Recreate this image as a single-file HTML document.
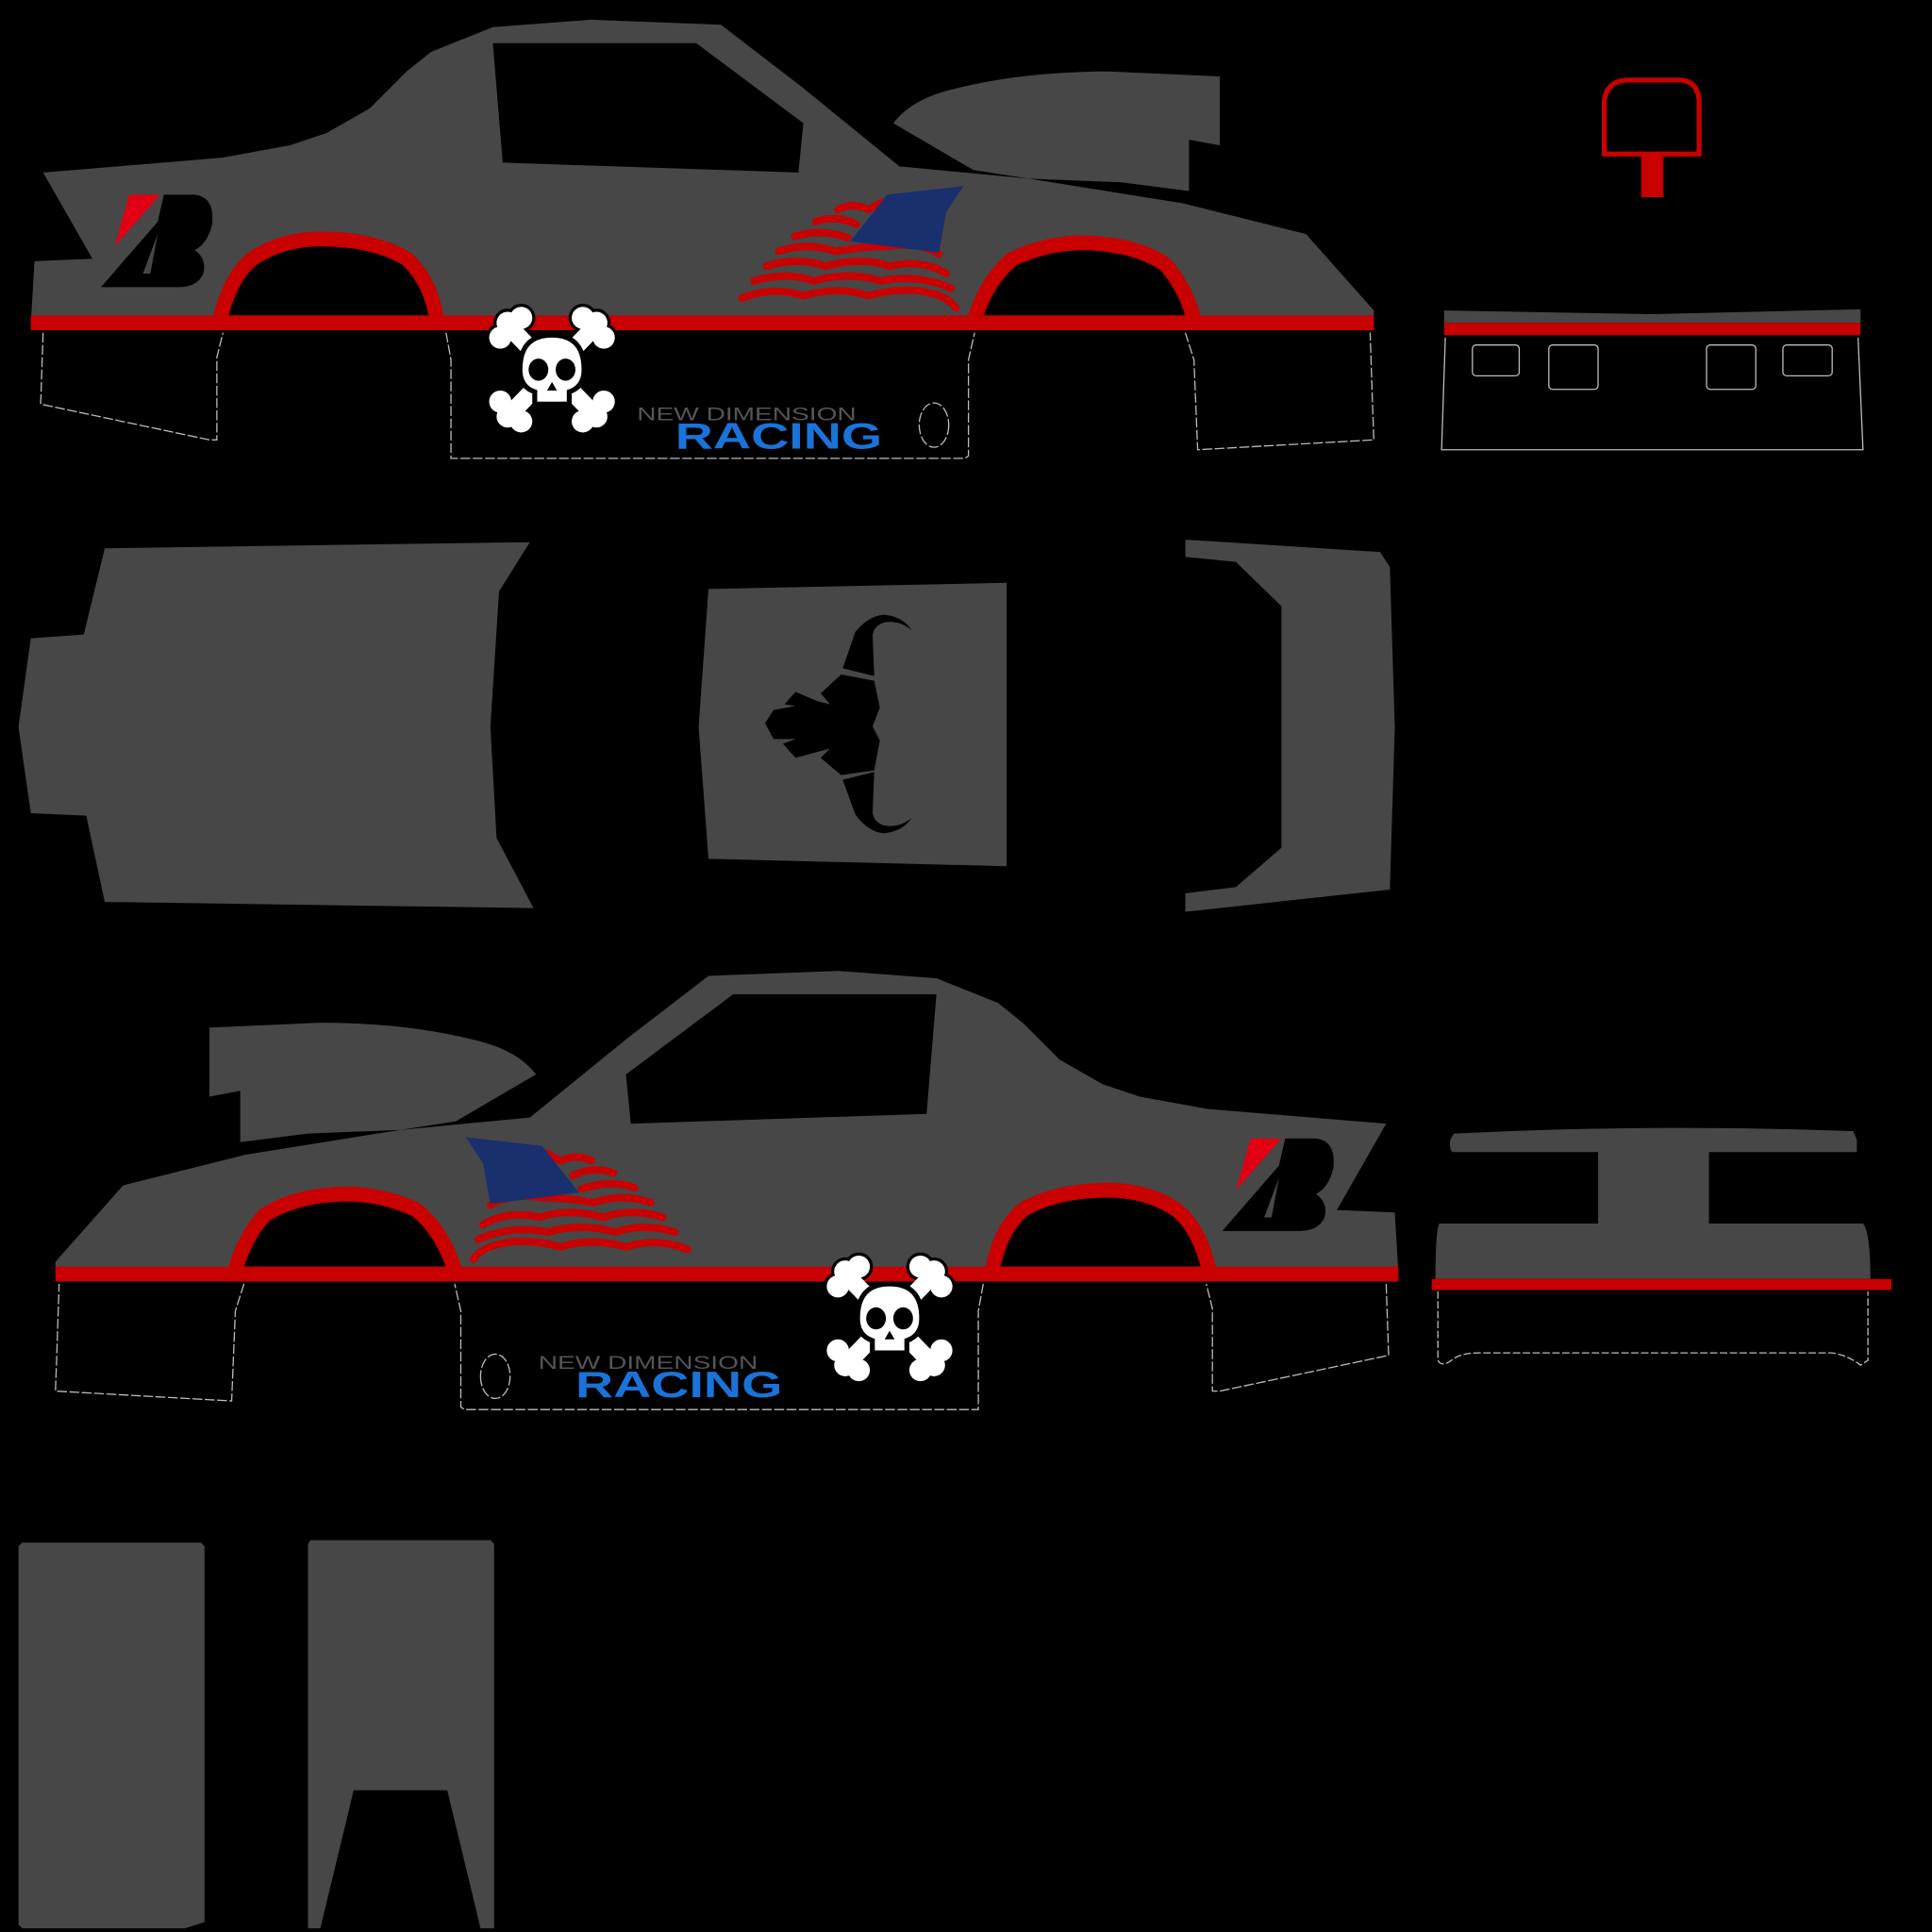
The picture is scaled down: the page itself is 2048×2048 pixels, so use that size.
<!DOCTYPE html>
<html><head><meta charset="utf-8"><style>
html,body{margin:0;padding:0;background:#000;}
svg{display:block;}
</style></head><body>
<svg xmlns="http://www.w3.org/2000/svg" width="2048" height="2048" viewBox="0 0 1568 1568">
<rect width="1568" height="1568" fill="#000"/>
<defs>
<g id="carbody">
  <path d="M35,140 L120,133 L180,128 L235,118 L265,108 L300,88 L330,58 L350,42 L400,22 L480,16 L585,20 L650,70 L730,135 L835,145 L960,165 L1060,190 L1115,252 L1115,262 L25,262 L28,212 L75,210 Z" fill="#474747"/>
  <path d="M400,35 L565,35 L652,100 L648,140 L408,132 Z" fill="#000"/>
  <path d="M725,100 Q740,80 775,72 Q830,58 900,58 L990,62 L990,118 L910,103 L965,112 L965,155 L910,148 L835,145 L790,138 Z" fill="#474747"/>
  <path d="M178,262 Q186,225 205,210 Q230,193 265,194 Q305,195 330,210 Q350,228 355,262 Z" fill="#000" stroke="#c80000" stroke-width="12" stroke-linejoin="round"/>
  <path d="M790,262 Q800,228 822,210 Q850,197 880,197 Q920,198 945,214 Q962,232 970,262 Z" fill="#000" stroke="#c80000" stroke-width="12" stroke-linejoin="round"/>
  <rect x="25" y="256" width="1090" height="12" fill="#c80000"/>
  <g fill="none" stroke="#bbb" stroke-width="1" stroke-dasharray="8,2">
    <path d="M35,270 L33,328 L170,357 L176,357 L176,290 L181,270"/>
    <path d="M362,270 L366,292 L366,372 L783,372 L786,370 L786,292 L791,270"/>
    <path d="M962,270 L969,292 L972,365 L1115,357 L1114,330 L1112,270"/>
    <ellipse cx="758" cy="345" rx="12" ry="18"/>
  </g>
  <!-- flag -->
  <g fill="none" stroke="#c80000" stroke-width="6" stroke-linecap="round">
    <path d="M680,170 Q692,164 705,170 Q715,164 728,160"/>
    <path d="M662,180 Q678,174 695,182"/>
    <path d="M645,192 Q665,185 688,193"/>
    <path d="M632,204 Q655,196 678,204 Q700,200 720,200 Q745,196 762,206"/>
    <path d="M622,216 Q648,208 670,216 Q700,208 722,216 Q748,210 768,222"/>
    <path d="M612,228 Q638,220 660,228 Q690,220 715,228 Q745,222 772,234"/>
    <path d="M602,242 Q628,232 652,240 Q680,232 705,240 Q735,232 755,238 Q768,240 776,250"/>
  </g>
  <path d="M690,196 L720,158 L782,151 L768,172 L762,205 Z" fill="#1a2f6e"/>
</g>
<g id="skull">
  <g fill="#fff" stroke="#000" stroke-width="3">
    <circle cx="-36" cy="-38" r="10"/><circle cx="-42" cy="-26" r="10"/><circle cx="-25" cy="-42" r="10"/>
    <circle cx="36" cy="-38" r="10"/><circle cx="42" cy="-26" r="10"/><circle cx="25" cy="-42" r="10"/>
    <circle cx="-36" cy="38" r="10"/><circle cx="-42" cy="26" r="10"/><circle cx="-25" cy="42" r="10"/>
    <circle cx="36" cy="38" r="10"/><circle cx="42" cy="26" r="10"/><circle cx="25" cy="42" r="10"/>
  </g>
  <g fill="#fff">
    <circle cx="-36" cy="-38" r="9"/><circle cx="-42" cy="-26" r="9"/><circle cx="-25" cy="-42" r="9"/>
    <circle cx="36" cy="-38" r="9"/><circle cx="42" cy="-26" r="9"/><circle cx="25" cy="-42" r="9"/>
    <circle cx="-36" cy="38" r="9"/><circle cx="-42" cy="26" r="9"/><circle cx="-25" cy="42" r="9"/>
    <circle cx="36" cy="38" r="9"/><circle cx="42" cy="26" r="9"/><circle cx="25" cy="42" r="9"/>
    <path d="M-38,-28 L28,40 L38,30 L-28,-38 Z"/>
    <path d="M38,-28 L-28,40 L-38,30 L28,-38 Z"/>
  </g>
  <path d="M-26,0 Q-26,-28 0,-28 Q26,-28 26,0 Q26,14 14,18 L14,28 L-14,28 L-14,18 Q-26,14 -26,0 Z" fill="#fff" stroke="#000" stroke-width="4"/>
  <ellipse cx="-11" cy="0" rx="8" ry="9" fill="#000"/>
  <ellipse cx="11" cy="0" rx="8" ry="9" fill="#000"/>
  <path d="M0,10 L-4,17 L4,17 Z" fill="#000"/>
</g>
<g id="bstone">
  <path d="M105,158 L130,158 L93,200 Z" fill="#e00012"/>
  <path d="M82,233 L128,180 L133,158 L158,158 Q175,160 172,183 Q168,198 158,203 Q168,210 165,222 Q160,233 145,233 Z" fill="#000"/>
  <path d="M116,222 L122,222 L128,190 Z" fill="#474747"/>
</g>
</defs>

<!-- TOP CAR -->
<use href="#carbody"/>
<use href="#bstone"/>
<use href="#skull" transform="translate(448,300)"/>
<text x="517" y="341" font-family="Liberation Sans, sans-serif" font-size="15" fill="#555" textLength="178" lengthAdjust="spacingAndGlyphs">NEW DIMENSION</text>
<text x="548" y="364" font-family="Liberation Sans, sans-serif" font-weight="bold" font-size="30" fill="#1a73d9" textLength="168" lengthAdjust="spacingAndGlyphs">RACING</text>

<!-- mirror -->
<path d="M1302,125 L1302,82 Q1304,66 1320,65 L1364,65 Q1378,66 1379,82 L1379,125 Z" fill="none" stroke="#c80000" stroke-width="4"/>
<rect x="1332" y="125" width="18" height="35" fill="#c80000"/>

<!-- rear bumper top right -->
<path d="M1172,252 L1340,255 L1510,251 L1510,262 L1172,262 Z" fill="#474747"/>
<rect x="1172" y="262" width="338" height="10" fill="#c80000"/>
<g fill="none" stroke="#bbb" stroke-width="1">
  <path d="M1173,274 L1170,365 L1512,365 L1508,274"/>
  <rect x="1195" y="280" width="38" height="25" rx="3"/>
  <rect x="1257" y="280" width="40" height="36" rx="3"/>
  <rect x="1385" y="280" width="40" height="36" rx="3"/>
  <rect x="1447" y="280" width="40" height="25" rx="3"/>
</g>

<!-- hood -->
<path d="M85,445 L430,440 L405,480 L398,590 L403,680 L433,737 L85,732 L70,662 L25,660 L15,590 L25,518 L68,515 Z" fill="#474747"/>
<!-- roof -->
<path d="M575,478 L817,473 L817,703 L575,697 L567,590 Z" fill="#474747"/>
<g transform="scale(0.765625) translate(780,620) scale(0.33333)" fill="#000">
  <path d="M93,440 L120,398 L190,385 L155,380 L190,340 L260,370 L300,380 L270,345 L335,285 L440,305 L458,390 L435,450 L458,495 L440,590 L335,605 L270,550 L300,520 L190,550 L150,505 L190,490 L120,490 Z"/>
  <path d="M340,265 L380,150 Q420,100 470,95 Q530,100 560,145 Q520,110 470,120 Q440,130 435,160 L440,290 Z"/>
  <path d="M340,620 L380,730 Q420,785 470,790 Q530,785 560,740 Q520,775 470,765 Q440,755 435,725 L440,595 Z"/>
</g>
<!-- trunk -->
<path d="M962,438 L1120,448 L1128,460 L1132,590 L1128,722 L962,740 L962,725 L1003,720 L1040,688 L1040,492 L1003,456 L962,452 Z" fill="#474747"/>

<!-- BOTTOM CAR -->
<use href="#carbody" transform="translate(1160,772) scale(-1,1)"/>
<use href="#bstone" transform="translate(910,766)"/>
<use href="#skull" transform="translate(722,1070)"/>
<text x="437" y="1111" font-family="Liberation Sans, sans-serif" font-size="15" fill="#555" textLength="178" lengthAdjust="spacingAndGlyphs">NEW DIMENSION</text>
<text x="467" y="1134" font-family="Liberation Sans, sans-serif" font-weight="bold" font-size="30" fill="#1a73d9" textLength="168" lengthAdjust="spacingAndGlyphs">RACING</text>

<!-- wing bottom right -->
<path d="M1180,920 Q1340,912 1504,918 L1507,925 L1507,935 L1387,935 L1387,993 L1512,993 Q1518,1000 1518,1038 L1165,1038 Q1165,1000 1168,993 L1297,993 L1297,935 L1180,935 Q1176,935 1177,925 Z" fill="#474747"/>
<rect x="1162" y="1038" width="373" height="9" fill="#c80000"/>
<path d="M1167,1048 L1167,1104 Q1170,1110 1178,1104 Q1185,1098 1200,1098 L1487,1098 Q1500,1100 1510,1108 L1516,1104 L1516,1048" fill="none" stroke="#bbb" stroke-width="1" stroke-dasharray="6,2"/>

<!-- bottom-left panels -->
<path d="M18,1252 L163,1252 L166,1255 L166,1560 L150,1565 L18,1565 L15,1562 L15,1255 Z" fill="#474747"/>
<path d="M252,1250 L398,1250 L401,1253 L401,1565 L390,1565 L363,1453 L287,1453 L260,1565 L250,1565 L250,1253 Z" fill="#474747"/>
</svg>
</body></html>
